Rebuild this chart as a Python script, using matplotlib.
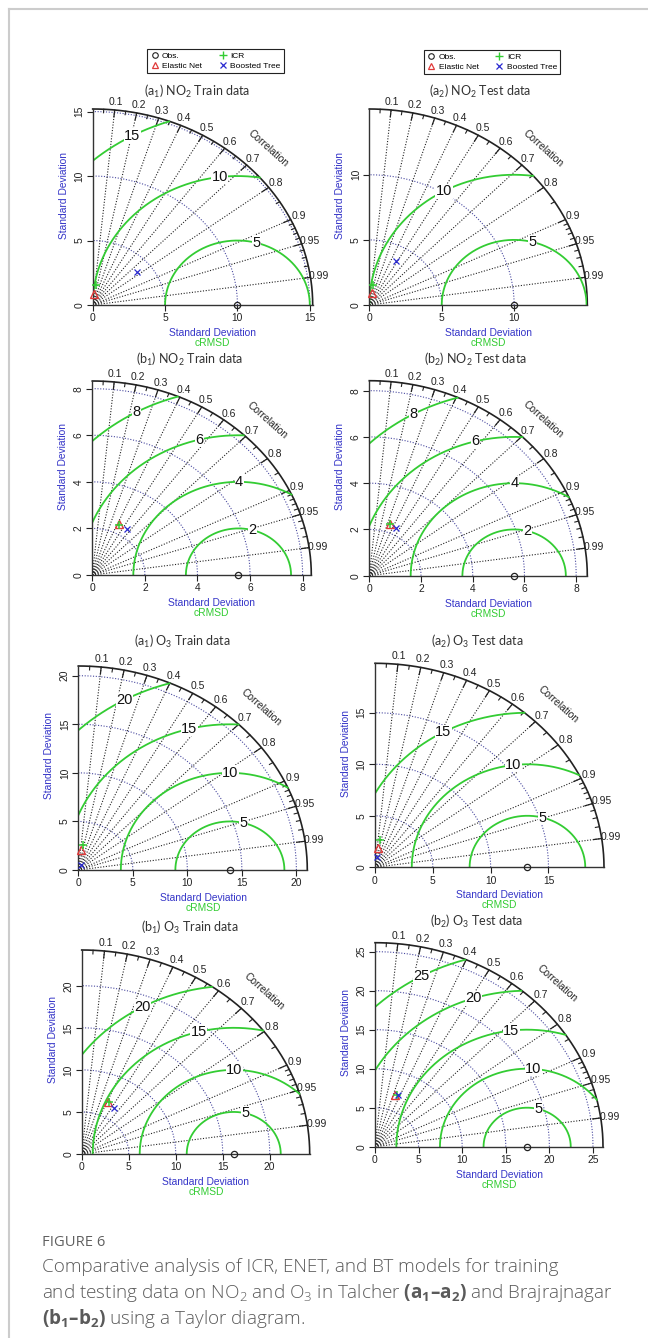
import numpy as np
import matplotlib.pyplot as plt
from matplotlib.lines import Line2D

plt.rcParams['font.family'] = ['Liberation Sans', 'DejaVu Sans']
plt.rcParams['mathtext.fontset'] = 'custom'
plt.rcParams['mathtext.rm'] = 'Lato'
plt.rcParams['mathtext.bf'] = 'Open Sans:bold'
plt.rcParams['mathtext.default'] = 'regular'

W, H = 648, 1338

# ---- values (SD and correlation of each model) ----
titles = ['(a$_1$) NO$_2$ Train data', '(a$_2$) NO$_2$ Test data',
          '(b$_1$) NO$_2$ Train data', '(b$_2$) NO$_2$ Test data',
          '(a$_1$) O$_3$ Train data', '(a$_2$) O$_3$ Test data',
          '(b$_1$) O$_3$ Train data', '(b$_2$) O$_3$ Test data']
sd_max = [15.2, 15.05, 8.33, 8.43, 21.0, 19.8, 24.25, 26.15]
sd_ticks = [[0, 5, 10, 15], [0, 5, 10], [0, 2, 4, 6, 8], [0, 2, 4, 6, 8],
            [0, 5, 10, 15, 20], [0, 5, 10, 15], [0, 5, 10, 15, 20],
            [0, 5, 10, 15, 20, 25]]
obs_sd = [10.0, 10.0, 5.56, 5.6, 13.9, 13.18, 16.17, 17.45]
enet_sd = [0.85, 0.91, 2.42, 2.38, 2.07, 1.92, 6.84, 7.0]
enet_r = [0.08, 0.18, 0.425, 0.336, 0.10, 0.12, 0.41, 0.33]
icr_sd = [1.57, 1.56, 2.40, 2.36, 2.60, 2.68, 6.80, 7.05]
icr_r = [0.15, 0.18, 0.43, 0.34, 0.15, 0.16, 0.42, 0.35]
bt_sd = [3.96, 3.87, 2.39, 2.32, 0.58, 1.04, 6.50, 7.15]
bt_r = [0.77, 0.475, 0.56, 0.44, 0.50, 0.14, 0.53, 0.37]
corr_major = [0.1, 0.2, 0.3, 0.4, 0.5, 0.6, 0.7, 0.8, 0.9, 0.95, 0.99]
corr_minor = [0.05, 0.15, 0.25, 0.35, 0.45, 0.55, 0.65, 0.75, 0.85,
              0.91, 0.92, 0.93, 0.94, 0.96, 0.97, 0.98]
legend_names = ['Obs.', 'Elastic Net', 'ICR', 'Boosted Tree']
caption = ['Comparative analysis of ICR, ENET, and BT models for training',
           'and testing data on NO$_2$ and O$_3$ in Talcher '
           '$\\mathbf{(a_1{–}a_2)}$ and Brajrajnagar',
           '$\\mathbf{(b_1{–}b_2)}$ using a Taylor diagram.']

# ---- layout (pixels in the 648x1338 picture) ----
origin_px = [(92.7, 305), (369.3, 305), (92.3, 575), (369.3, 575.7),
             (78.3, 870), (375, 867.3), (81.7, 1154), (375, 1146.7)]
size_px = [(220, 196), (218, 196), (219, 194), (218, 195),
           (229, 204), (229, 204), (228, 204), (228, 204)]
title_px = [(197, 91.5), (480, 91.5), (190, 359), (475, 359),
            (182, 641), (477, 641), (190, 927), (477, 921)]
legend_px = [(215.5, 61), (492, 62)]

C_EN, C_ICR, C_BT = '#e03a3a', '#33cc33', '#2a2ad0'
C_LAB = '#3535c8'
C_GRID = '#4a4aa0'

fig = plt.figure(figsize=(W / 100, H / 100), dpi=100)

for i in range(8):
    ox, oy = origin_px[i]
    w, h = size_px[i]
    ax = fig.add_axes([ox / W, 1 - oy / H, w / W, h / H])
    R = sd_max[i]
    ax.set_xlim(0, R)
    ax.set_ylim(0, R)
    ax.set_facecolor('none')
    for s in ['top', 'right']:
        ax.spines[s].set_visible(False)
    for s in ['left', 'bottom']:
        ax.spines[s].set_color('#333333')
        ax.spines[s].set_linewidth(1.0)
    ax.set_xticks(sd_ticks[i])
    ax.set_yticks(sd_ticks[i])
    ax.tick_params(length=4, width=0.8, labelsize=7.4, pad=2, colors='#222222')
    ax.tick_params(axis='y', labelrotation=90)
    plt.setp(ax.get_yticklabels(), va='center')

    th = np.linspace(0, np.pi / 2, 300)
    # SD arcs (blue dotted)
    for t in sd_ticks[i][1:]:
        if t < R - 0.05:
            ax.plot(t * np.cos(th), t * np.sin(th), ls=(0, (1, 1.5)),
                    color=C_GRID, lw=0.8)
    # outer arc
    ax.plot(R * np.cos(th), R * np.sin(th), color='#222222', lw=1.2,
            clip_on=False)
    # correlation rays and ticks
    for c in corr_major:
        a = np.arccos(c)
        ax.plot([0, R * np.cos(a)], [0, R * np.sin(a)], color='#222222',
                ls=(0, (1, 1.5)), lw=0.8)
        ax.plot([0.965 * R * np.cos(a), R * np.cos(a)],
                [0.965 * R * np.sin(a), R * np.sin(a)], color='#222222',
                lw=0.9, clip_on=False)
        ax.text(1.04 * R * np.cos(a), 1.04 * R * np.sin(a), f'{c:g}',
                fontsize=7.5, ha='center', va='center', color='#222222')
    for c in corr_minor:
        a = np.arccos(c)
        ax.plot([0.982 * R * np.cos(a), R * np.cos(a)],
                [0.982 * R * np.sin(a), R * np.sin(a)], color='#222222',
                lw=0.8, clip_on=False)
    rot = np.degrees(np.arctan2(-h, w))
    ax.text(1.13 * R * np.cos(np.pi / 4), 1.13 * R * np.sin(np.pi / 4),
            'Correlation', fontsize=7.4, rotation=rot, rotation_mode='anchor',
            ha='center', va='center', color='#222222')

    # centred RMSD contours (green)
    o = obs_sd[i]
    levels = sd_ticks[i][1:]
    tt = np.linspace(0, np.pi, 800)
    for k, r in enumerate(levels):
        x = o + r * np.cos(tt)
        y = r * np.sin(tt)
        ok = (x >= 0) & (x ** 2 + y ** 2 <= R ** 2)
        ax.plot(np.where(ok, x, np.nan), np.where(ok, y, np.nan),
                color=C_ICR, lw=1.3)
        la = np.radians(np.linspace(75, 119, len(levels))[k])
        lx, ly = o + r * np.cos(la), r * np.sin(la)
        if lx >= 0 and lx ** 2 + ly ** 2 <= R ** 2:
            ax.text(lx, ly, str(r), fontsize=10.5, ha='center', va='center',
                    color='#111111',
                    bbox=dict(fc='white', ec='none', pad=0.3))

    # points
    ax.plot(o, 0, 'o', mfc='none', mec='#222222', ms=4.5, mew=0.9,
            clip_on=False, zorder=5)
    ax.plot(enet_sd[i] * enet_r[i], enet_sd[i] * np.sqrt(1 - enet_r[i] ** 2),
            '^', mfc='none', mec=C_EN, ms=6, mew=1.0, clip_on=False, zorder=5)
    ax.plot(icr_sd[i] * icr_r[i], icr_sd[i] * np.sqrt(1 - icr_r[i] ** 2),
            '+', color=C_ICR, ms=6, mew=1.1, clip_on=False, zorder=6)
    ax.plot(bt_sd[i] * bt_r[i], bt_sd[i] * np.sqrt(1 - bt_r[i] ** 2),
            'x', color=C_BT, ms=4.5, mew=0.9, clip_on=False, zorder=6)

    # axis labels
    ax.annotate('Standard Deviation', xy=(0.545, 0), xycoords='axes fraction',
                xytext=(0, -28), textcoords='offset pixels', ha='center',
                va='center', fontsize=7.4, color=C_LAB)
    ax.annotate('cRMSD', xy=(0.545, 0), xycoords='axes fraction',
                xytext=(0, -38), textcoords='offset pixels', ha='center',
                va='center', fontsize=7.4, color=C_ICR)
    ax.annotate('Standard Deviation', xy=(0, 0.56), xycoords='axes fraction',
                xytext=(-29, 0), textcoords='offset pixels', ha='center',
                va='center', fontsize=7.4, color=C_LAB, rotation=90)

    tx, ty = title_px[i]
    fig.text(tx / W, 1 - ty / H, titles[i], fontsize=9.0, family='Lato',
             color='#333333', ha='center', va='center')

# legends on the two top panels
handles = [Line2D([], [], ls='none', marker='o', mfc='none', mec='#222222',
                  ms=4, mew=0.8),
           Line2D([], [], ls='none', marker='^', mfc='none', mec=C_EN,
                  ms=5, mew=0.9),
           Line2D([], [], ls='none', marker='+', color=C_ICR, ms=6, mew=1.0),
           Line2D([], [], ls='none', marker='x', color=C_BT, ms=4.5, mew=0.9)]
for cx, cy in legend_px:
    leg = fig.legend(handles, legend_names, loc='center',
                     bbox_to_anchor=(cx / W, 1 - cy / H), ncol=2,
                     fontsize=6.0, frameon=True, fancybox=False,
                     edgecolor='#222222', framealpha=1, handlelength=1.0,
                     handletextpad=0.4, columnspacing=2.0, borderpad=0.35,
                     labelspacing=0.25)
    leg.get_frame().set_linewidth(0.8)

# frame of the page
fig.add_artist(Line2D([9 / W, 9 / W], [0, 1 - 9 / H], color='#cccccc', lw=1.5))
fig.add_artist(Line2D([9 / W, 1], [1 - 9 / H, 1 - 9 / H], color='#cccccc',
                      lw=1.5))

# caption
fig.text(42 / W, 1 - 1242 / H, 'FIGURE 6', fontsize=10.6, family='Open Sans',
         color='#606060', ha='left', va='center')
for k, line in enumerate(caption):
    fig.text(42 / W, 1 - (1267 + 25.5 * k) / H, line, fontsize=13.6,
             family='Open Sans', weight='light', color='#5a5a5a', ha='left',
             va='center')

fig.savefig('out.png', dpi=100)
